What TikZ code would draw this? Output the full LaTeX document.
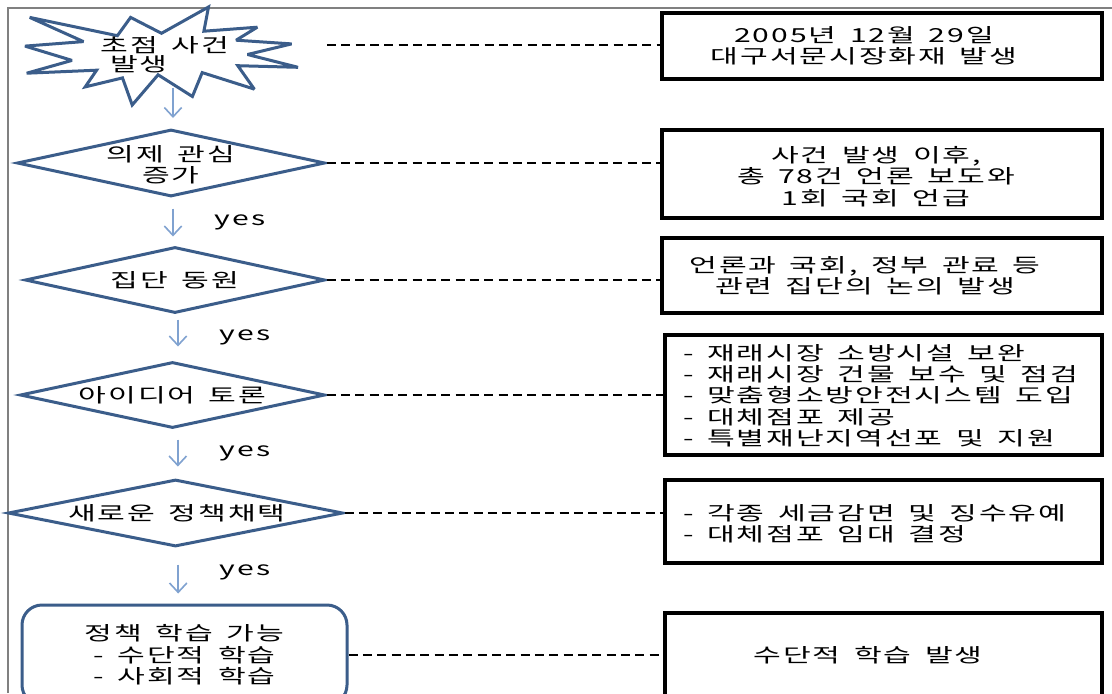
\documentclass[tikz,border=0pt]{standalone}
\usepackage{fontspec}
\setmainfont{Noto Sans CJK KR}[FakeStretch=1.56,LetterSpace=10,WordSpace=1.55]
\usetikzlibrary{shapes.geometric,arrows.meta}
\definecolor{sbblue}{RGB}{59,93,138}
\definecolor{arrblue}{RGB}{128,162,208}
\definecolor{framegray}{RGB}{128,128,128}
\begin{document}
\begin{tikzpicture}[x=0.75pt,y=-0.75pt,
  txt/.style={font=\fontsize{14.5}{16}\selectfont, align=center, inner sep=0pt, text=black},
  ltxt/.style={txt, align=left, anchor=west},
  dia/.style={diamond, draw=sbblue, line width=2.25pt, inner sep=0pt},
  box/.style={rectangle, draw=black, line width=3pt, inner sep=0pt},
  conn/.style={draw=black, line width=1.5pt, dash pattern=on 6.75pt off 4pt},
  arr/.style={draw=arrblue, line width=1.2pt, -{Straight Barb[length=7pt,width=13pt]}},
  sb/.style={draw=sbblue, line width=2.25pt, line join=miter, miter limit=3},
]
\useasboundingbox (0,0) rectangle (1112,693);
\clip (0,0) rectangle (1112,693);
\fill[white] (0,0) rectangle (1112,693);
% frame
\draw[framegray, line width=1.1pt] (8,693) -- (8,8) -- (1112,8);

% starburst
\draw[sb] (161.5,33.3) -- (208.5,7) -- (203.9,31.2) -- (257.3,27.2) -- (236.1,40.2) -- (291.6,43.9) -- (247.5,54.5) -- (298,67.3) -- (237.8,65.7) -- (254.3,89.1) -- (202.2,72.6) -- (192.4,96.5) -- (158.1,74.8) -- (132.2,105) -- (122.5,77.9) -- (85.2,86.9) -- (96.6,70.2) -- (26.7,73.2) -- (72,60.4) -- (25,46.1) -- (83.5,41.6) -- (29.7,17.4) -- (117.4,35.7) -- (130.6,17.4) -- cycle;
\node[txt] (sbt1) at (165,45) {초점 사건};
\node[txt] (sbt2) at (139,64) {발생};

% diamonds
\node[dia, minimum width=231pt, minimum height=50.25pt] (d1) at (171,163) {};
\node[txt] (d1t) at (171,165) {의제 관심\\증가};
\node[dia, minimum width=225pt, minimum height=49.5pt] (d2) at (175,280) {};
\node[txt] (d2t) at (175,280) {집단 동원};
\node[dia, minimum width=228.75pt, minimum height=49.5pt] (d3) at (172.5,395) {};
\node[txt] (d3t) at (172.5,395) {아이디어 토론};
\node[dia, minimum width=251.25pt, minimum height=50.25pt] (d4) at (175.5,513) {};
\node[txt] (d4t) at (177,513) {새로운 정책채택};

% rounded box
\node[rectangle, draw=sbblue, line width=2.25pt, rounded corners=15pt, minimum width=243.75pt, minimum height=75pt, inner sep=0pt, txt] (r) at (184.5,655) {정책 학습 가능\\- 수단적 학습\\- 사회적 학습};

% right boxes
\node[box, minimum width=330pt, minimum height=49.5pt] (b1) at (882,46) {};
\node[txt] (b1t) at (864,46) {2005년 12월 29일\\대구서문시장화재 발생};
\node[box, minimum width=330pt, minimum height=66pt] (b2) at (882,174) {};
\node[txt] (b2t) at (876,176.5) {사건 발생 이후,\\총 78건 언론 보도와\\1회 국회 언급};
\node[box, minimum width=330pt, minimum height=56.25pt] (b3) at (882,275.5) {};
\node[txt] (b3t) at (865,276) {언론과 국회, 정부 관료 등\\관련 집단의 논의 발생};
\node[box, minimum width=327.75pt, minimum height=90pt] (b4) at (883.5,395) {};
\node[ltxt] (b4t) at (683,395.5) {- 재래시장 소방시설 보완\\- 재래시장 건물 보수 및 점검\\- 맞춤형소방안전시스템 도입\\- 대체점포 제공\\- 특별재난지역선포 및 지원};
\node[box, minimum width=327.75pt, minimum height=62.25pt] (b5) at (883.5,521.5) {};
\node[ltxt] (b5t) at (683,524) {- 각종 세금감면 및 징수유예\\- 대체점포 임대 결정};
\node[box, minimum width=327.75pt, minimum height=72.75pt] (b6) at (883.5,661.5) {};
\node[txt] (b6t) at (868,655) {수단적 학습 발생};

% dashed connectors
\coordinate (s1) at (327,45);
\draw[conn] (s1) -- (s1 -| b1.west);
\draw[conn] (d1.east) -- (d1.east -| b2.west);
\draw[conn] (d2.east) -- (d2.east -| b3.west);
\draw[conn] (d3.east) -- (d3.east -| b4.west);
\draw[conn] (d4.east) -- (d4.east -| b5.west);
\draw[conn] (r.east) -- (r.east -| b6.west);

% arrows
\coordinate (a1s) at (173,88);
\coordinate (a2s) at ([xshift=1.5pt]d1.south);
\coordinate (a3s) at ([xshift=2.25pt]d2.south);
\coordinate (a4s) at ([xshift=4pt]d3.south);
\coordinate (a5s) at ([xshift=2pt]d4.south);
\draw[arr, shorten >=7.5pt] (a1s) -- (a1s |- d1.north);
\draw[arr, shorten <=7.9pt, shorten >=6.75pt] (a2s) -- (a2s |- d2.north);
\draw[arr, shorten <=3.75pt, shorten >=10.5pt] (a3s) -- (a3s |- d3.north);
\draw[arr, shorten <=7.5pt, shorten >=8.6pt] (a4s) -- (a4s |- d4.north);
\draw[arr, shorten <=12.4pt, shorten >=7.5pt] (a5s) -- (a5s |- r.north);

% yes labels
\node[txt] (y1) at (240,222) {yes};
\node[txt] (y2) at (245,337) {yes};
\node[txt] (y3) at (245,453) {yes};
\node[txt] (y4) at (245,572) {yes};
\end{tikzpicture}
\end{document}
